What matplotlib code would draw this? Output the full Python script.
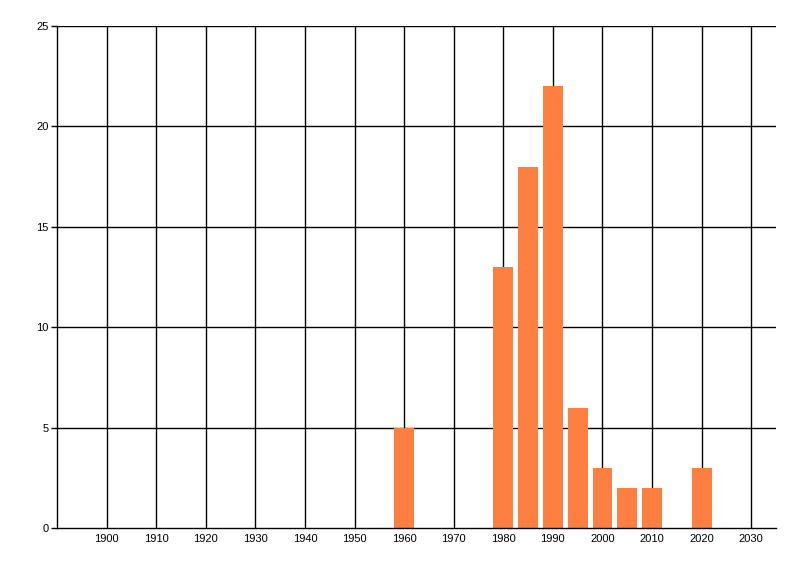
import numpy as np
import matplotlib
matplotlib.use("Agg")
import matplotlib.pyplot as plt

years = [1960, 1980, 1985, 1990, 1995, 2000, 2005, 2010, 2020]
counts = [5, 13, 18, 22, 6, 3, 2, 2, 3]
x_ticks = list(range(1900, 2031, 10))
y_ticks = [0, 5, 10, 15, 20, 25]

plt.rcParams['font.family'] = ['Liberation Sans', 'DejaVu Sans']

fig = plt.figure(figsize=(8, 5.76), dpi=100)
ax = fig.add_axes([57 / 800, 48 / 576, (776 - 57) / 800, (528 - 26) / 576])

# grid drawn first, bars on top
for x in x_ticks:
    ax.axvline(x, color='black', lw=1, zorder=1)
for y in y_ticks[1:]:
    ax.axhline(y, color='black', lw=1, zorder=1)

ax.bar(years, counts, width=4, color='#FF7F40', zorder=2)

ax.set_xlim(1890, 2035)
ax.set_ylim(0, 25)
ax.set_xticks(x_ticks)
ax.set_yticks(y_ticks)
ax.tick_params(axis='x', length=0, pad=4, labelsize=8)
ax.tick_params(axis='y', length=4, width=1, pad=2, labelsize=8)

for side in ['top', 'right']:
    ax.spines[side].set_visible(False)
for side in ['left', 'bottom']:
    ax.spines[side].set_linewidth(1)
    ax.spines[side].set_zorder(3)

fig.savefig('out.png', dpi=100)
